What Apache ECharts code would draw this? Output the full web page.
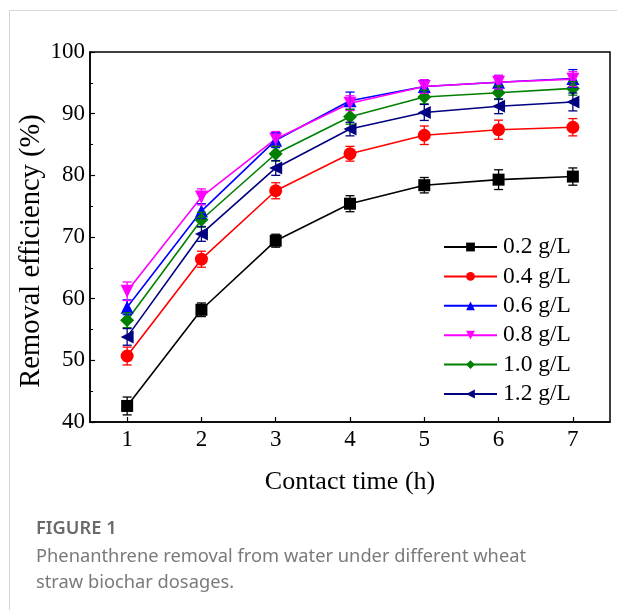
<!DOCTYPE html>
<html lang="en">
<head>
    <meta charset="UTF-8">
    <script type="text/javascript" src="https://cdn.jsdelivr.net/npm/echarts@6/dist/echarts.min.js"></script>
    <title>Figure 1</title>
    <style type="text/css">
        html, body { margin: 0; padding: 0; background: #fff; }
        #chart { width: 617px; height: 610px; }
    </style>
</head>
<body>
<div id="chart"></div>
<script type="text/javascript">
    // contact time (h)
    const time = [1, 2, 3, 4, 5, 6, 7];
    const xTicks = [1, 2, 3, 4, 5, 6, 7];

    // removal efficiency (%) and error bars per dosage
    const d02 = [42.6, 58.2, 69.4, 75.4, 78.4, 79.3, 79.8];
    const e02 = [1.45, 1.1, 1.05, 1.3, 1.25, 1.6, 1.4];
    const d04 = [50.7, 66.4, 77.5, 83.5, 86.5, 87.4, 87.8];
    const e04 = [1.45, 1.3, 1.3, 1.2, 1.5, 1.55, 1.4];
    const d06 = [58.6, 74.2, 85.7, 92.1, 94.4, 95.1, 95.7];
    const e06 = [1.2, 1.2, 1.2, 1.4, 1.1, 1.1, 1.45];
    const d08 = [61.2, 76.5, 85.9, 91.7, 94.4, 95.1, 95.6];
    const e08 = [1.5, 1.3, 1.2, 1.2, 1.1, 1.1, 1.2];
    const d10 = [56.5, 72.8, 83.5, 89.5, 92.7, 93.4, 94.1];
    const e10 = [1.2, 1.2, 1.2, 1.2, 1.1, 1.1, 1.1];
    const d12 = [53.8, 70.5, 81.2, 87.5, 90.2, 91.2, 91.9];
    const e12 = [1.35, 1.2, 1.2, 1.1, 1.3, 1.2, 1.45];

    const serif = '"Times New Roman", "Liberation Serif", serif';

    const groups = [
        {name: '0.2 g/L', data: d02, err: e02, color: '#000000', symbol: 'rect', size: 12, rotate: 0},
        {name: '0.4 g/L', data: d04, err: e04, color: '#ff0000', symbol: 'circle', size: 13, rotate: 0},
        {name: '0.6 g/L', data: d06, err: e06, color: '#0000ff', symbol: 'triangle', size: 13, rotate: 0},
        {name: '0.8 g/L', data: d08, err: e08, color: '#ff00ff', symbol: 'triangle', size: 13, rotate: 180},
        {name: '1.0 g/L', data: d10, err: e10, color: '#008000', symbol: 'diamond', size: 14, rotate: 0},
        {name: '1.2 g/L', data: d12, err: e12, color: '#000080', symbol: 'triangle', size: 13, rotate: 90}
    ];

    function errorRender(color) {
        return function (params, api) {
            let x = api.value(0), y = api.value(1), e = api.value(2);
            let lo = api.coord([x, y - e]);
            let hi = api.coord([x, y + e]);
            let w = 4.5;
            let style = {stroke: color, lineWidth: 1.3};
            return {
                type: 'group',
                children: [
                    {type: 'line', shape: {x1: lo[0], y1: lo[1], x2: hi[0], y2: hi[1]}, style: style},
                    {type: 'line', shape: {x1: lo[0] - w, y1: lo[1], x2: lo[0] + w, y2: lo[1]}, style: style},
                    {type: 'line', shape: {x1: hi[0] - w, y1: hi[1], x2: hi[0] + w, y2: hi[1]}, style: style}
                ]
            };
        };
    }

    let series = [];
    groups.forEach(g => {
        series.push({
            name: g.name,
            type: 'line',
            data: time.map((t, i) => [t, g.data[i]]),
            symbol: g.symbol,
            symbolSize: g.size,
            symbolRotate: g.rotate,
            showAllSymbol: true,
            lineStyle: {color: g.color, width: 1.6},
            itemStyle: {color: g.color},
            z: 3
        });
        series.push({
            name: g.name + ' err',
            type: 'custom',
            data: time.map((t, i) => [t, g.data[i], g.err[i]]),
            renderItem: errorRender(g.color),
            z: 4,
            silent: true
        });
    });

    let chart = echarts.init(document.getElementById('chart'));
    let option = {
        backgroundColor: '#fff',
        animation: false,
        grid: {
            left: 90, right: 7, top: 52, bottom: 188,
            show: true, borderColor: '#000', borderWidth: 1.5
        },
        legend: {
            data: groups.map(g => g.name),
            orient: 'vertical',
            left: 443,
            top: 235,
            itemWidth: 53,
            itemHeight: 11,
            itemGap: 5.4,
            textStyle: {fontFamily: serif, fontSize: 23.5, color: '#000', lineHeight: 24, padding: [0, 0, 0, 1]},
            padding: 0
        },
        xAxis: {
            type: 'value',
            min: 0.5,
            max: 7.5,
            name: 'Contact time (h)',
            nameLocation: 'middle',
            nameGap: 47,
            nameTextStyle: {fontFamily: serif, fontSize: 26, color: '#000'},
            axisLine: {lineStyle: {color: '#000', width: 1.5}},
            axisTick: {inside: true, length: 5, customValues: xTicks, lineStyle: {color: '#000', width: 1.2}},
            axisLabel: {customValues: xTicks, fontFamily: serif, fontSize: 23, color: '#000', margin: 6},
            splitLine: {show: false}
        },
        yAxis: {
            type: 'value',
            min: 40,
            max: 100,
            interval: 10,
            name: 'Removal efficiency (%)',
            nameLocation: 'middle',
            nameGap: 44,
            nameMoveOverlap: false,
            nameTextStyle: {fontFamily: serif, fontSize: 28.5, color: '#000', padding: [0, 28, 0, 0]},
            axisLine: {lineStyle: {color: '#000', width: 1.5}},
            axisTick: {inside: true, length: 5, lineStyle: {color: '#000', width: 1.2}},
            minorTick: {show: true, splitNumber: 2, length: 3, lineStyle: {color: '#000', width: 1}},
            axisLabel: {fontFamily: serif, fontSize: 23, color: '#000', margin: 5},
            splitLine: {show: false}
        },
        graphic: [
            {type: 'line', shape: {x1: 9, y1: 10.5, x2: 617, y2: 10.5}, style: {stroke: '#d6d6d6', lineWidth: 1}},
            {type: 'line', shape: {x1: 9.5, y1: 10, x2: 9.5, y2: 610}, style: {stroke: '#d6d6d6', lineWidth: 1}},
            {type: 'text', left: 36, top: 520, style: {text: 'FIGURE 1', fill: '#6a6a6a', font: '600 18.3px "Noto Sans", sans-serif'}},
            {type: 'text', left: 36, top: 544, style: {text: 'Phenanthrene removal from water under different wheat\nstraw biochar dosages.', fill: '#7a7a7a', font: '18.3px "Noto Sans", sans-serif', lineHeight: 26}}
        ],
        series: series
    };
    chart.setOption(option);
</script>
</body>
</html>
